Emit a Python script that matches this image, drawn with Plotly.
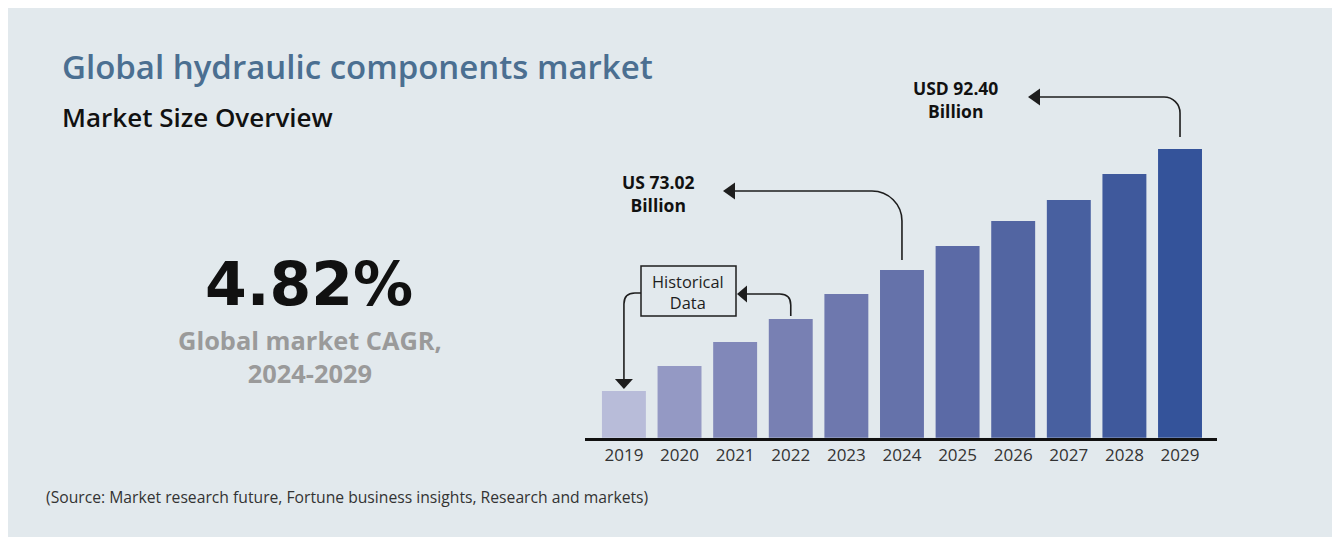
import plotly.graph_objects as go

# ---------------- data ----------------
years = ["2019", "2020", "2021", "2022", "2023", "2024", "2025", "2026", "2027", "2028", "2029"]
market_size = [53.64, 57.64, 61.49, 65.17, 69.18, 73.02, 76.86, 80.87, 84.23, 88.40, 92.40]
bar_colors = ["#B8BCD9", "#9499C4", "#8188B9", "#7880B3", "#6E78AE", "#6572AA",
              "#5B6AA6", "#5265A2", "#4860A0", "#3F599C", "#34539A"]
title_text = "Global hydraulic components market"
subtitle_text = "Market Size Overview"
cagr_value = "4.82%"
cagr_label = "Global market CAGR,<br>2024-2029"
label_2024 = "US 73.02<br>Billion"
label_2029 = "USD 92.40<br>Billion"
hist_label = "Historical<br>Data"
source_text = "(Source: Market research future, Fortune business insights, Research and markets)"

# ---------------- layout geometry (screen pixels) ----------------
W, H = 1340, 537
OFFX, OFFY = 8, 8          # page body margin offset
X0PX, X1PX = 585, 1217
X_RANGE = (-0.70, 10.665)
YBASE_PX, YTOP_PX = 437.7, 140.0
Y_RANGE = (46.16, 93.84)


def px(x, y):
    return (x - OFFX) / W, 1 - (y - OFFY) / H


def xpix(i):
    return X0PX + (i - X_RANGE[0]) / (X_RANGE[1] - X_RANGE[0]) * (X1PX - X0PX)


def ypix(v):
    return YBASE_PX - (v - Y_RANGE[0]) / (Y_RANGE[1] - Y_RANGE[0]) * (YBASE_PX - YTOP_PX)


def path(cmds, close=False):
    out = []
    for cmd in cmds:
        pts = []
        for (x, y) in cmd[1:]:
            u, v = px(x, y)
            pts.append(f"{u:.5f},{v:.5f}")
        out.append(cmd[0] + " " + " ".join(pts))
    return " ".join(out) + (" Z" if close else "")


fig = go.Figure()
fig.add_trace(go.Bar(
    x=years, y=market_size, marker=dict(color=bar_colors, line=dict(width=0)),
    width=0.79, hoverinfo="x+y",
))

LINE = "#1E1E1E"
shapes = []

# Historical data box
bx0, bx1, by0, by1 = 641, 736, 266, 316
u0, v0 = px(bx0, by1)
u1, v1 = px(bx1, by0)
shapes.append(dict(type="rect", xref="paper", yref="paper", x0=u0, x1=u1, y0=v0, y1=v1,
                   line=dict(color=LINE, width=1.5), fillcolor="rgba(0,0,0,0)"))

# arrow from box down to 2019
x19 = xpix(0)
tip19 = ypix(market_size[0]) - 2
hy = 293
shapes.append(dict(type="path", xref="paper", yref="paper", line=dict(color=LINE, width=1.6),
                   path=path([("M", (bx0, hy)), ("L", (x19 + 11, hy)),
                              ("Q", (x19, hy), (x19, hy + 11)), ("L", (x19, tip19 - 9))])))
shapes.append(dict(type="path", xref="paper", yref="paper", line=dict(width=0), fillcolor=LINE,
                   path=path([("M", (x19 - 9, tip19 - 10)), ("L", (x19 + 9, tip19 - 10)),
                              ("L", (x19, tip19))], close=True)))

# arrow from 2022 up to box
x22 = xpix(3)
top22 = ypix(market_size[3]) - 3
ry = 294
shapes.append(dict(type="path", xref="paper", yref="paper", line=dict(color=LINE, width=1.6),
                   path=path([("M", (x22, top22)), ("L", (x22, ry + 11)),
                              ("Q", (x22, ry), (x22 - 11, ry)), ("L", (bx1 + 10, ry))])))
shapes.append(dict(type="path", xref="paper", yref="paper", line=dict(width=0), fillcolor=LINE,
                   path=path([("M", (bx1 + 11, ry - 8.5)), ("L", (bx1 + 11, ry + 8.5)),
                              ("L", (bx1 + 1, ry))], close=True)))

# arrow from 2024 to label
x24 = xpix(5)
s24 = ypix(market_size[5]) - 10
hy24 = 191
r = 30
k = 0.5523 * r
shapes.append(dict(type="path", xref="paper", yref="paper", line=dict(color=LINE, width=1.6),
                   path=path([("M", (x24, s24)), ("L", (x24, hy24 + r)),
                              ("C", (x24, hy24 + r - k), (x24 - r + k, hy24), (x24 - r, hy24)),
                              ("L", (734, hy24))])))
shapes.append(dict(type="path", xref="paper", yref="paper", line=dict(width=0), fillcolor=LINE,
                   path=path([("M", (735, hy24 - 8.5)), ("L", (735, hy24 + 8.5)),
                              ("L", (723, hy24))], close=True)))

# arrow from 2029 to label
x29 = xpix(10)
s29 = ypix(market_size[10]) - 12
hy29 = 97
r = 16
k = 0.5523 * r
shapes.append(dict(type="path", xref="paper", yref="paper", line=dict(color=LINE, width=1.6),
                   path=path([("M", (x29, s29)), ("L", (x29, hy29 + r)),
                              ("C", (x29, hy29 + r - k), (x29 - r + k, hy29), (x29 - r, hy29)),
                              ("L", (1039, hy29))])))
shapes.append(dict(type="path", xref="paper", yref="paper", line=dict(width=0), fillcolor=LINE,
                   path=path([("M", (1040, hy29 - 8.5)), ("L", (1040, hy29 + 8.5)),
                              ("L", (1028, hy29))], close=True)))

FONT = "Open Sans, Noto Sans, sans-serif"


def ann(text, x, y, size, color, weight="normal", xanchor="center", family=FONT):
    u, v = px(x, y)
    return dict(text=text, xref="paper", yref="paper", x=u, y=v, xanchor=xanchor, yanchor="middle",
                showarrow=False, align="center" if xanchor == "center" else "left",
                font=dict(size=size, color=color, family=family, weight=weight))


annotations = [
    ann(title_text, 60, 67, 33, "#4B6F91", weight=600, xanchor="left"),
    ann(subtitle_text, 60, 117, 26, "#111111", weight=600, xanchor="left"),
    ann(cagr_value, 309, 284, 60, "#111111", weight="bold", family="DejaVu Sans, sans-serif"),
    ann(cagr_label, 310, 356, 25.4, "#9A9A9A", weight="bold"),
    ann(hist_label, 688, 292, 16.4, "#1E1E1E"),
    ann(label_2024, 658, 194, 17.5, "#111111", weight="bold"),
    ann(label_2029, 955, 99, 17.5, "#111111", weight="bold"),
    ann(source_text, 44, 497, 15.7, "#333333", xanchor="left"),
]

x0u, _ = px(X0PX, 0)
x1u, _ = px(X1PX, 0)
_, ybv = px(0, YBASE_PX)
_, ytv = px(0, YTOP_PX)

fig.update_layout(
    width=W, height=H,
    margin=dict(l=0, r=0, t=0, b=0),
    paper_bgcolor="#E2E9ED",
    plot_bgcolor="rgba(0,0,0,0)",
    showlegend=False,
    shapes=shapes,
    annotations=annotations,
    xaxis=dict(domain=[x0u, x1u], range=list(X_RANGE), type="category",
               categoryorder="array", categoryarray=years,
               showline=True, linecolor="#111111", linewidth=3, showgrid=False, zeroline=False,
               ticks="", tickfont=dict(family=FONT, size=17, color="#333333")),
    yaxis=dict(domain=[ybv, ytv], range=list(Y_RANGE),
               visible=False, showgrid=False, zeroline=False),
)

fig.write_html("out.html")
